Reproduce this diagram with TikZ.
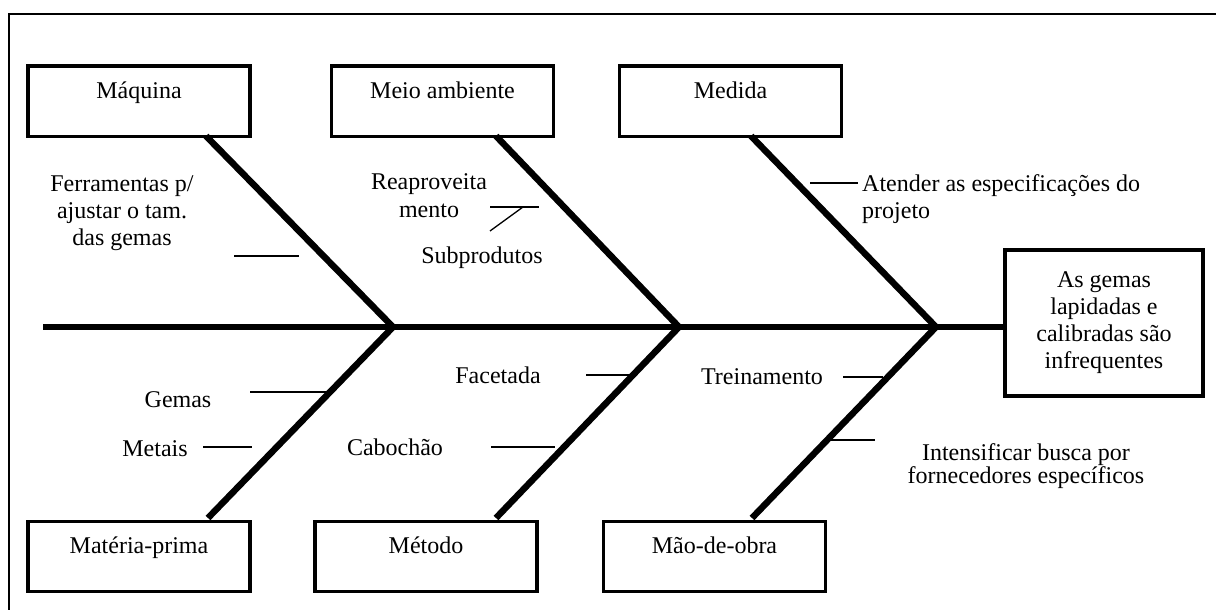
\documentclass[tikz,border=0pt]{standalone}
\usepackage{fontspec}
\setmainfont{Liberation Serif}
\usepackage{tikz}
\tikzstyle{caixa} = [draw, line width=3.6pt, fill=white, minimum width=222pt, inner sep=0pt, text height=32.5pt, text depth=37.5pt, anchor=north]
\tikzstyle{espinha} = [line width=6.5pt]
\tikzstyle{traco} = [line width=1.3pt]
\tikzstyle{rotulo} = [inner sep=0pt, align=center]

\begin{document}
\begin{tikzpicture}[x=1pt,y=-1pt,font=\fontsize{24}{27}\selectfont]
\useasboundingbox (0,0) rectangle (1216,610);
\draw [line width=2pt] (9,610) |- (1216,14);
% categorias
\node [caixa] (maq) at (139,64.5) {Máquina};
\node [caixa] (meio) at (442.5,64.5) {Meio ambiente};
\node [caixa] (med) at (730.5,64.5) {Medida};
\node [caixa] (mat) at (139,519.5) {Matéria-prima};
\node [caixa] (mto) at (426,519.5) {Método};
\node [caixa] (mao) at (714.5,519.5) {Mão-de-obra};
\node [draw, line width=3.6pt, minimum width=198pt, minimum height=146pt, align=center] (efeito) at (1104,323) {As gemas\\lapidadas e\\calibradas são\\infrequentes};
% espinha
\coordinate (cauda) at (43,327);
\coordinate (j1) at (393,327);
\coordinate (j2) at (679,327);
\coordinate (j3) at (936,327);
\coordinate (b1) at (206,136);
\coordinate (b2) at (496,136);
\coordinate (b3) at (751,136);
\coordinate (b4) at (208,518);
\coordinate (b5) at (496,518);
\coordinate (b6) at (752,518);
\draw [espinha] (cauda) -- (cauda -| efeito.west);
\draw [espinha] (b1) -- (j1) -- (b4);
\draw [espinha] (b2) -- (j2) -- (b5);
\draw [espinha] (b3) -- (j3) -- (b6);
% causas
\node [rotulo] (fer) at (122,213) {Ferramentas p/\\ajustar o tam.\\das gemas};
\node [rotulo, font=\fontsize{24}{28}\selectfont] (rea) at (429,196) {Reaproveita\\mento};
\node [rotulo, anchor=base] (sub) at (482,263) {Subprodutos};
\node [rotulo, anchor=west, align=left] (ate) at (862,199) {Atender as especificações do\\projeto};
\node [rotulo, anchor=base] (gem) at (178,407) {Gemas};
\node [rotulo, anchor=base] (met) at (155,456) {Metais};
\node [rotulo, anchor=base] (fac) at (498,383) {Facetada};
\node [rotulo, anchor=base] (cab) at (395,455) {Cabochão};
\node [rotulo, anchor=base] (tre) at (762,384) {Treinamento};
\node [rotulo, font=\fontsize{24}{22}\selectfont] (int) at (1026,466) {Intensificar busca por\\fornecedores específicos};
% tracos
\coordinate (t1a) at (234,256); \coordinate (t1b) at (299,256);
\coordinate (t2a) at (490,207); \coordinate (t2b) at (539,207);
\coordinate (t2c) at (523,207); \coordinate (t2d) at (490,231);
\coordinate (t3a) at (810,183); \coordinate (t3b) at (858,183);
\coordinate (t4a) at (250,392); \coordinate (t4b) at (327,392);
\coordinate (t5a) at (203,447); \coordinate (t5b) at (252,447);
\coordinate (t6a) at (586,375); \coordinate (t6b) at (630,375);
\coordinate (t7a) at (491,447); \coordinate (t7b) at (555,447);
\coordinate (t8a) at (843,377); \coordinate (t8b) at (883,377);
\coordinate (t9a) at (830,440); \coordinate (t9b) at (875,440);
\draw [traco] (t1a) -- (t1b);
\draw [traco] (t2a) -- (t2b);
\draw [traco] (t2c) -- (t2d);
\draw [traco] (t3a) -- (t3b);
\draw [traco] (t4a) -- (t4b);
\draw [traco] (t5a) -- (t5b);
\draw [traco] (t6a) -- (t6b);
\draw [traco] (t7a) -- (t7b);
\draw [traco] (t8a) -- (t8b);
\draw [traco] (t9a) -- (t9b);
\end{tikzpicture}
\end{document}
